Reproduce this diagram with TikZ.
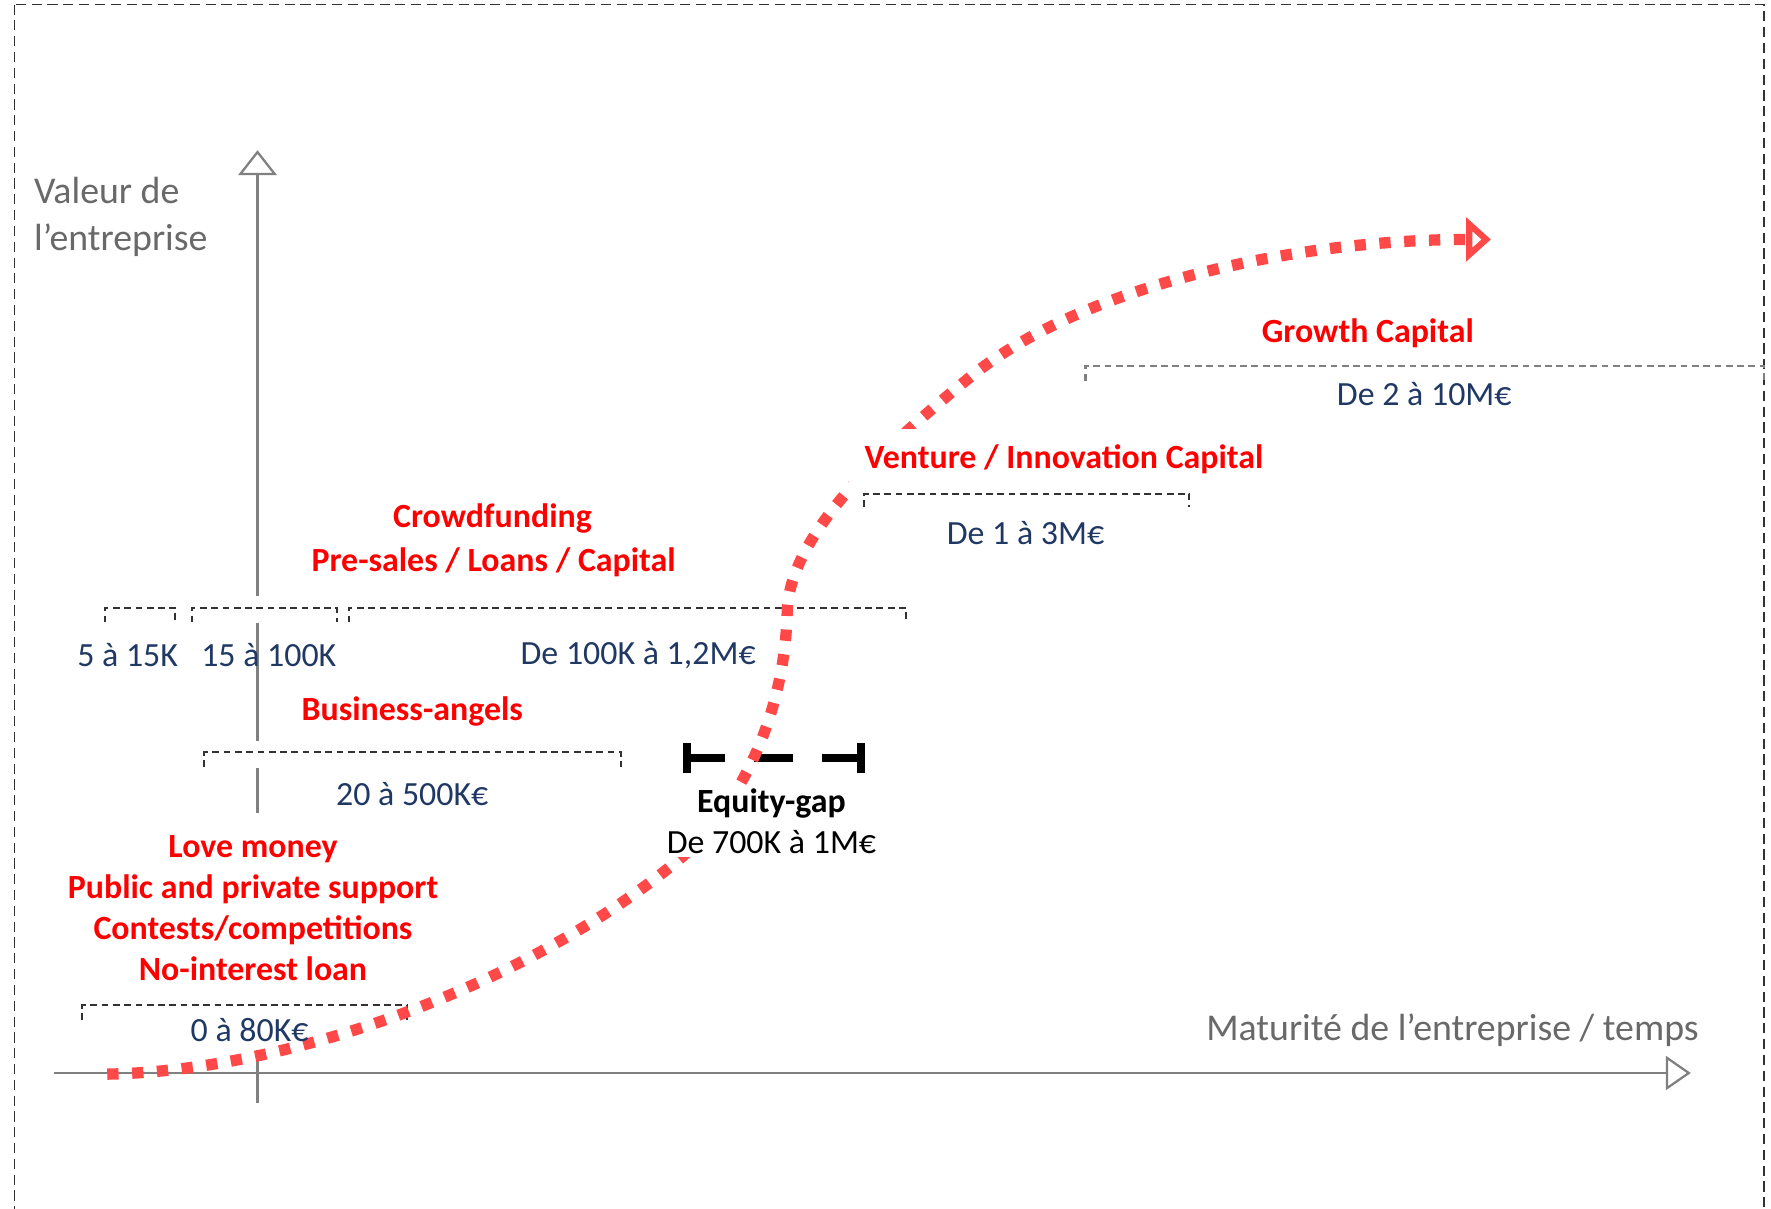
\documentclass[tikz,border=0pt]{standalone}
\usepackage{fontspec}
\setmainfont{Carlito}
\usetikzlibrary{arrows.meta}
\definecolor{fundred}{RGB}{255,0,0}
\definecolor{navy}{RGB}{31,56,100}
\definecolor{axisgray}{RGB}{105,105,105}
\definecolor{linegray}{RGB}{128,128,128}
\definecolor{bargray}{RGB}{50,50,50}
\definecolor{curvered}{RGB}{255,72,72}
\tikzset{
	amount/.style={text=navy,font=\fontsize{30}{36}\selectfont,inner sep=2pt},
	fund/.style={text=fundred,font=\fontsize{30}{36.5}\selectfont\bfseries,align=center,inner sep=2pt},
	axislabel/.style={text=axisgray,font=\fontsize{33.5}{41}\selectfont,inner sep=0pt},
	axisline/.style={draw=linegray,line width=2pt},
	rangebar/.style={draw=bargray,line width=1.7pt,dash pattern=on 6pt off 4pt},
	growth/.style={draw=curvered,line width=10pt,dash pattern=on 10pt off 12pt},
}
\begin{document}
\begin{tikzpicture}[x=1pt,y=-1pt]
		\useasboundingbox (0,0) rectangle (1568,1070);
		\draw[bargray,line width=1.4pt,dash pattern=on 9pt off 5pt](13,4) rectangle (1562,1085);
		\draw[axisline,-{Triangle[open,length=22pt,width=34pt]}](228,528)--(228,133);
		\draw[axisline](228,552)--(228,656);
		\draw[axisline](228,680)--(228,720);
		\draw[axisline](228,930)--(228,977);
		\draw[axisline,-{Triangle[open,length=22pt,width=30pt]}](48,950)--(1497,950);
		\node[axislabel,anchor=west,align=left] (value) at (30,192) {Valeur de\\l’entreprise};
		\node[axislabel] (time) at (1286,912) {Maturité de l’entreprise / temps};
		\draw[rangebar](93,551)--(93,538)--(155,538)--(155,551);
		\draw[rangebar](170,551)--(170,538)--(298,538)--(298,551);
		\draw[rangebar](309,551)--(309,538)--(802,538)--(802,551);
		\draw[rangebar](181,679)--(181,666)--(550,666)--(550,679);
		\draw[rangebar](73,903)--(73,890)--(360,890)--(360,903);
		\draw[rangebar](765,449)--(765,437)--(1053,437)--(1053,449);
		\draw[rangebar,draw=linegray,line width=2.2pt](961,337)--(961,324)--(1562,324)--(1562,337);
		\draw[black,line width=7pt,dash pattern=on 34pt off 26pt](608,671)--(762,671);
		\draw[black,line width=7pt](608,658)--(608,684);
		\draw[black,line width=7pt](762,658)--(762,684);
		\draw[growth,-{Triangle[open,length=22pt,width=38pt,line width=8pt]}](95,951) .. controls (260,948) and (470,870) .. (600,762) .. controls (650,720) and (695,640) .. (697,540) .. controls (700,470) and (790,390) .. (860,333) .. controls (960,252) and (1150,212) .. (1320,212);
		\node[amount] (seed) at (113,580) {5 à 15K};
		\node[amount] (preseed) at (238,580) {15 à 100K};
		\node[amount] (crowdamount) at (565,580) {De 100K à 1,2M€};
		\node[fund] (crowd) at (436,459) {Crowdfunding};
		\node[fund] (presales) at (437,498) {Pre-sales / Loans / Capital};
		\node[fund] (angels) at (365,630) {Business-angels};
		\node[amount] (angelamount) at (365,703) {20 à 500K€};
		\node[fund] (love) at (224,804) {Love money\\Public and private support\\Contests/competitions\\No-interest loan};
		\node[amount] (loveamount) at (221,912) {0 à 80K€};
		\node[fill=white,align=center,inner sep=3pt,font=\fontsize{30}{36}\selectfont] (gap) at (683,727) {\textbf{Equity-gap}\\De 700K à 1M€};
		\node[fund,fill=white,minimum height=55pt,inner xsep=14pt] (venture) at (942,407) {Venture / Innovation Capital};
		\node[amount] (ventureamount) at (908,472) {De 1 à 3M€};
		\node[fund] (growthcap) at (1211,295) {Growth Capital};
		\node[amount] (growthamount) at (1261,349) {De 2 à 10M€};
	    \end{tikzpicture}
\end{document}
